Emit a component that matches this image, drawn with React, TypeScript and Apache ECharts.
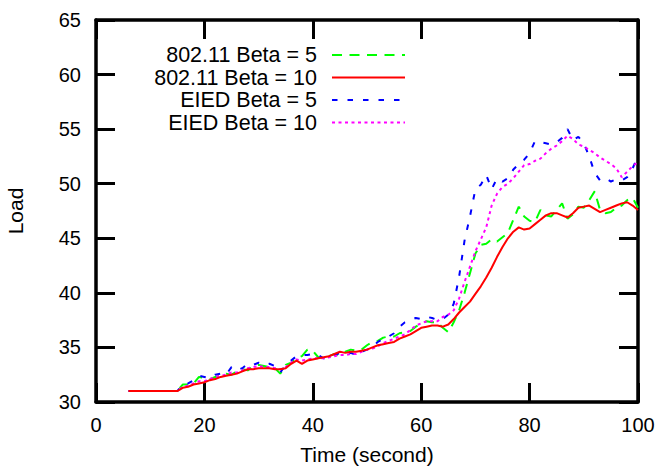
import React, { useEffect, useRef } from "react";
import * as echarts from "echarts";

const seriesNames = ["802.11 Beta = 5", "802.11 Beta = 10", "EIED Beta = 5", "EIED Beta = 10"];

const timeSec = [
  6, 7, 8, 9, 10, 11, 12, 13, 14, 15,
  16, 17, 18, 19, 20, 21, 22, 23, 24, 25,
  26, 27, 28, 29, 30, 31, 32, 33, 34, 35,
  36, 37, 38, 39, 40, 41, 42, 43, 44, 45,
  46, 47, 48, 49, 50, 51, 52, 53, 54, 55,
  56, 57, 58, 59, 60, 61, 62, 63, 64, 65,
  66, 67, 68, 69, 70, 71, 72, 73, 74, 75,
  76, 77, 78, 79, 80, 81, 82, 83, 84, 85,
  86, 87, 88, 89, 90, 91, 92, 93, 94, 95,
  96, 97, 98, 99, 100,
];

const wifiBeta5 = [
  31, 31, 31, 31, 31, 31, 31, 31, 31, 31,
  31.6, 31.6, 31.7, 32.3, 32.2, 32.1, 32.3, 32.4, 32.6, 32.5,
  32.8, 33.0, 32.9, 33.3, 33.4, 33.3, 33.2, 33.1, 32.6, 33.4,
  33.6, 34.0, 34.2, 34.8, 34.7, 34.1, 34.0, 34.2, 34.4, 34.3,
  34.6, 34.8, 34.7, 34.8, 35.2, 35.5, 35.6, 35.9, 36.0, 36.0,
  36.3, 36.4, 36.5, 36.9, 37.2, 37.4, 37.3, 37.3, 36.8, 36.4,
  37.3, 38.4, 40.0, 41.8, 43.6, 44.4, 44.5, 44.9, 44.7, 45.1,
  45.5, 46.7, 47.9, 47.0, 46.6, 46.5, 47.6, 47.1, 47.0, 47.6,
  48.2, 46.8, 47.2, 47.9, 47.8, 48.5, 49.3, 47.6, 47.3, 47.4,
  47.8, 48.0, 48.5, 48.7, 47.8,
];

const wifiBeta10 = [
  31, 31, 31, 31, 31, 31, 31, 31, 31, 31,
  31.3, 31.4, 31.6, 31.7, 31.8, 32.0, 32.1, 32.3, 32.4, 32.5,
  32.6, 32.8, 33.0, 33.0, 33.1, 33.1, 33.1, 33.0, 33.0, 33.1,
  33.5, 33.8, 33.5, 33.8, 33.9, 34.0, 34.1, 34.2, 34.4, 34.6,
  34.5, 34.6, 34.6, 34.7, 34.8, 35.0, 35.2, 35.3, 35.4, 35.5,
  35.8, 36.0, 36.2, 36.5, 36.8, 36.9, 37.0, 37.0, 36.9, 37.1,
  37.6, 38.2, 38.7, 39.2, 39.9, 40.6, 41.4, 42.3, 43.3, 44.2,
  45.0, 45.6, 46.0, 45.8, 45.9, 46.3, 46.7, 47.1, 47.3, 47.3,
  47.1, 46.9, 47.3, 47.8, 47.9, 48.0, 47.7, 47.4, 47.6, 47.8,
  48.0, 48.2, 48.3, 48.0, 47.6,
];

const eiedBeta5 = [
  31, 31, 31, 31, 31, 31, 31, 31, 31, 31,
  31.6, 31.7, 32.0, 32.4, 32.3, 32.2, 32.5, 32.6, 32.5, 33.2,
  32.9, 33.1, 33.5, 33.4, 33.6, 33.4, 33.5, 33.3, 32.7, 33.4,
  33.8, 34.2, 34.3, 34.3, 34.4, 34.3, 34.0, 34.1, 34.3, 34.5,
  34.4, 34.5, 34.3, 34.6, 34.8, 35.1, 35.5, 35.8, 36.0, 36.3,
  36.9, 37.3, 37.5, 37.7, 37.6, 37.8, 37.7, 37.5, 37.6, 38.0,
  39.0, 41.5, 44.8, 47.0, 49.5, 49.9, 50.8, 49.5, 50.5, 50.2,
  50.5, 51.3, 51.8, 52.2, 52.8, 53.9, 53.8, 53.7, 53.6, 53.8,
  54.2, 55.0, 54.0, 54.3, 53.7, 52.5, 51.0, 50.3, 50.5, 50.2,
  50.4, 50.3, 50.6, 51.4, 52.5,
];

const eiedBeta10 = [
  31, 31, 31, 31, 31, 31, 31, 31, 31, 31,
  31.4, 31.5, 31.7, 31.9, 31.9, 32.1, 32.3, 32.4, 32.5, 32.7,
  32.7, 32.9, 33.1, 33.2, 33.3, 33.2, 33.2, 33.1, 33.0, 33.2,
  33.6, 33.9, 33.8, 33.9, 34.0, 34.0, 34.0, 34.1, 34.2, 34.3,
  34.3, 34.4, 34.4, 34.6, 34.8, 34.9, 35.1, 35.4, 35.6, 35.8,
  36.0, 36.2, 36.6, 37.0, 37.2, 37.4, 37.4, 37.4, 37.8, 38.0,
  38.4, 39.5, 41.0, 42.4, 43.8, 44.9, 46.0, 48.0, 49.1, 49.7,
  50.0, 50.5, 51.1, 51.7, 51.8, 52.1, 52.3, 52.8, 53.2, 53.5,
  53.9, 54.4, 54.1, 53.6, 53.4, 53.1, 52.8, 52.4, 52.1, 51.8,
  51.4, 50.6, 51.1, 51.6, 52.0,
];

const seriesValues = [wifiBeta5, wifiBeta10, eiedBeta5, eiedBeta10];
const seriesColors = ["#00ff00", "#ff0000", "#0000ff", "#ff00ff"];
const seriesDash: any[] = [[10, 7.5], "solid", [5.5, 10], [3, 3.5]];

const FONT = "'Liberation Sans', Arial, sans-serif";

export default function App() {
  const ref = useRef<HTMLDivElement>(null);

  useEffect(() => {
    if (!ref.current) return;
    const chart = echarts.init(ref.current, null, { renderer: "svg" });

    const frameLine = () => ({ show: true, onZero: false, lineStyle: { color: "#000000", width: 3.5 } });
    const innerTicks = () => ({ show: true, inside: true, length: 19, lineStyle: { color: "#000000", width: 3 } });

    const series = seriesNames.map((name, i) => ({
      name,
      type: "line",
      data: timeSec.map((t, k) => [t, seriesValues[i][k]]),
      showSymbol: false,
      symbol: "none",
      xAxisIndex: 0,
      yAxisIndex: 0,
      lineStyle: { color: seriesColors[i], width: 2, type: seriesDash[i] },
      itemStyle: { color: seriesColors[i] },
      z: i === 1 ? 5 : 3,
    }));

    chart.setOption({
      animation: false,
      backgroundColor: "#fff",
      textStyle: { fontFamily: FONT },
      grid: {
        left: 96,
        right: 22,
        top: 20,
        bottom: 64,
        containLabel: false,
        outerBoundsMode: "none",
      },
      legend: {
        orient: "vertical",
        align: "right",
        right: 249,
        top: 39,
        itemWidth: 73,
        itemHeight: 10,
        itemGap: 0.5,
        data: seriesNames,
        itemStyle: { opacity: 0 },
        textStyle: {
          fontFamily: FONT,
          fontSize: 21.5,
          lineHeight: 21,
          color: "#000",
          padding: [0, 10, 0, 0],
        },
      },
      xAxis: [
        {
          type: "value",
          min: 0,
          max: 100,
          interval: 20,
          position: "bottom",
          axisLine: frameLine(),
          axisTick: innerTicks(),
          splitLine: { show: false },
          axisLabel: { fontFamily: FONT, fontSize: 20, color: "#000", margin: 13 },
          name: "Time (second)",
          nameLocation: "middle",
          nameGap: 42,
          nameTextStyle: { fontFamily: FONT, fontSize: 21, color: "#000" },
        },
        {
          type: "value",
          min: 0,
          max: 100,
          interval: 20,
          position: "top",
          axisLine: frameLine(),
          axisTick: innerTicks(),
          splitLine: { show: false },
          axisLabel: { show: false },
        },
      ],
      yAxis: [
        {
          type: "value",
          min: 30,
          max: 65,
          interval: 5,
          position: "left",
          axisLine: frameLine(),
          axisTick: innerTicks(),
          splitLine: { show: false },
          axisLabel: { fontFamily: FONT, fontSize: 20, color: "#000", margin: 15 },
          name: "Load",
          nameLocation: "middle",
          nameGap: 70,
          nameRotate: 90,
          nameTextStyle: { fontFamily: FONT, fontSize: 21, color: "#000" },
        },
        {
          type: "value",
          min: 30,
          max: 65,
          interval: 5,
          position: "right",
          axisLine: frameLine(),
          axisTick: innerTicks(),
          splitLine: { show: false },
          axisLabel: { show: false },
        },
      ],
      series,
    });

    return () => chart.dispose();
  }, []);

  return (
    <div
      ref={ref}
      style={{ position: "fixed", left: 0, top: 0, width: 660, height: 466 }}
    />
  );
}
